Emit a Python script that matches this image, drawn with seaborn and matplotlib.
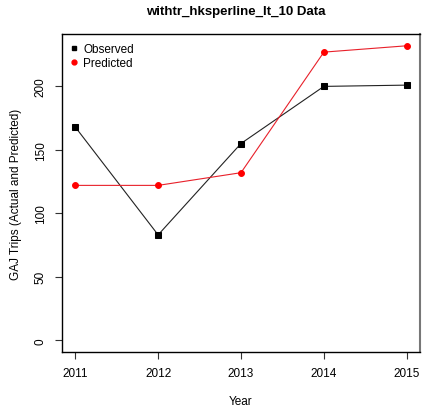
import matplotlib
matplotlib.use("Agg")
import matplotlib.pyplot as plt
import seaborn as sns
import pandas as pd
from matplotlib.lines import Line2D

years = [2011, 2012, 2013, 2014, 2015]
observed = [168, 83, 155, 200, 201]
predicted = [122, 122, 132, 227, 232]
title = "withtr_hksperline_lt_10 Data"
xlabel = "Year"
ylabel = "GAJ Trips (Actual and Predicted)"

plt.rcParams['font.family'] = ['Liberation Sans', 'DejaVu Sans']

df = pd.DataFrame({"Year": years, "Observed": observed, "Predicted": predicted})

fig = plt.figure(figsize=(4.24, 4.14), dpi=100)
ax = fig.add_axes([62/424, 61/414, 358/424, 318/414])

sns.lineplot(data=df, x="Year", y="Observed", ax=ax, color="#222222", lw=0.8,
             marker="s", markersize=4, markeredgecolor="black", markerfacecolor="black")
sns.lineplot(data=df, x="Year", y="Predicted", ax=ax, color="#e8202a", lw=0.8,
             marker="o", markersize=4.2, markeredgecolor="red", markerfacecolor="red")

ymax = max(max(observed), max(predicted))
pad = 0.04 * ymax
ax.set_ylim(-pad, ymax + pad)
ax.set_xlim(2011 - 0.16, 2015 + 0.16)
ax.set_xticks(years)
ax.set_xticklabels([str(y) for y in years])
ax.set_yticks([0, 50, 100, 150, 200])
ax.set_yticklabels(["0", "50", "100", "150", "200"], rotation=90, va="center")
ax.tick_params(axis="both", direction="out", length=5, width=0.8, labelsize=8.5, pad=6, colors="#333333", labelcolor="black")

for s in ax.spines.values():
    s.set_linewidth(1.0)
    s.set_color("black")
ax.spines["right"].set_color("#777777")
ax.spines["right"].set_linewidth(1.5)

ax.set_xlabel(xlabel, fontsize=8.5, labelpad=11)
ax.set_ylabel(ylabel, fontsize=8.5, labelpad=9)
fig.text(0.555, 0.985, title, ha="center", va="top", fontsize=9.5, fontweight="bold")

handles = [Line2D([], [], ls="none", marker="s", color="black", markersize=3.5),
           Line2D([], [], ls="none", marker="o", color="red", markersize=3.5)]
ax.legend(handles, ["Observed", "Predicted"], loc="upper left", frameon=False,
          fontsize=8.5, handlelength=0.5, handletextpad=0.5, labelspacing=0.15,
          borderaxespad=0.3, borderpad=0.5)

fig.savefig("out.png", dpi=100)
